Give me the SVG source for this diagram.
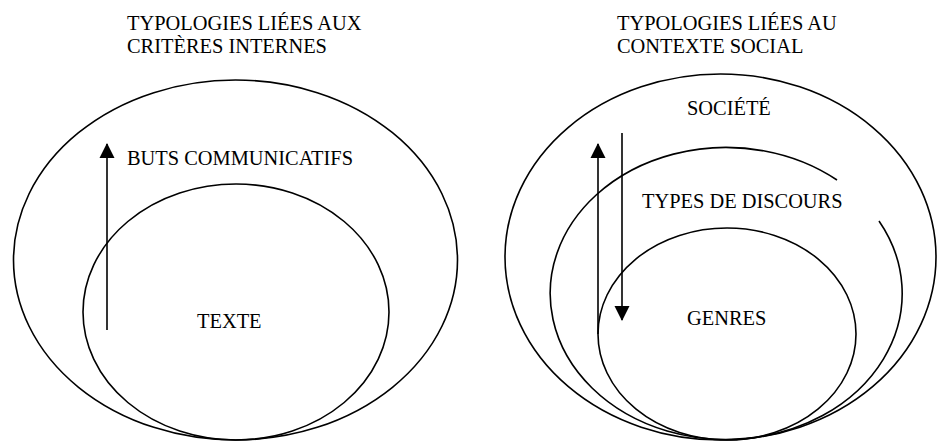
<svg xmlns="http://www.w3.org/2000/svg" width="938" height="441" viewBox="0 0 938 441">
<defs>
<style>
.shape{fill:none;stroke:#000;stroke-width:1.6}
.conn{stroke:#000;stroke-width:1.6;fill:none}
.lbl{font-family:'Liberation Serif','Times New Roman',serif;font-size:20.4px;fill:#000}
</style>
<marker id="ah" markerWidth="15" markerHeight="16" refX="14" refY="7.5" orient="auto" markerUnits="userSpaceOnUse" viewBox="0 0 15 15">
<path d="M0,0 L15,7.5 L0,15 Z" fill="#000"/>
</marker>
</defs>
<rect width="938" height="441" fill="#fff"/>
<g id="title-left">
<text class="lbl" x="127" y="30">TYPOLOGIES LIÉES AUX</text>
<text class="lbl" x="127" y="53">CRITÈRES INTERNES</text>
</g>
<g id="title-right">
<text class="lbl" x="617" y="30">TYPOLOGIES LIÉES AU</text>
<text class="lbl" x="617" y="53">CONTEXTE SOCIAL</text>
</g>
<g id="buts-communicatifs">
<ellipse class="shape" cx="235.5" cy="260" rx="222" ry="180"/>
<text class="lbl" x="127" y="165">BUTS COMMUNICATIFS</text>
</g>
<g id="texte">
<ellipse class="shape" cx="236" cy="312" rx="153" ry="128"/>
<text class="lbl" x="197" y="328">TEXTE</text>
</g>
<g id="societe">
<ellipse class="shape" cx="720.5" cy="257" rx="215.5" ry="183"/>
<text class="lbl" x="687" y="115">SOCIÉTÉ</text>
</g>
<g id="types-de-discours">
<path class="shape" d="M879,221 A176,146 0 1 1 837,180"/>
<text class="lbl" x="642" y="208">TYPES DE DISCOURS</text>
</g>
<g id="genres">
<ellipse class="shape" cx="727" cy="334" rx="129" ry="106"/>
<text class="lbl" x="687" y="325">GENRES</text>
</g>
<g id="connectors">
<line class="conn" x1="107" y1="330" x2="107" y2="144" marker-end="url(#ah)"/>
<line class="conn" x1="598" y1="334" x2="598" y2="144" marker-end="url(#ah)"/>
<line class="conn" x1="622" y1="133" x2="622" y2="320" marker-end="url(#ah)"/>
</g>
</svg>
